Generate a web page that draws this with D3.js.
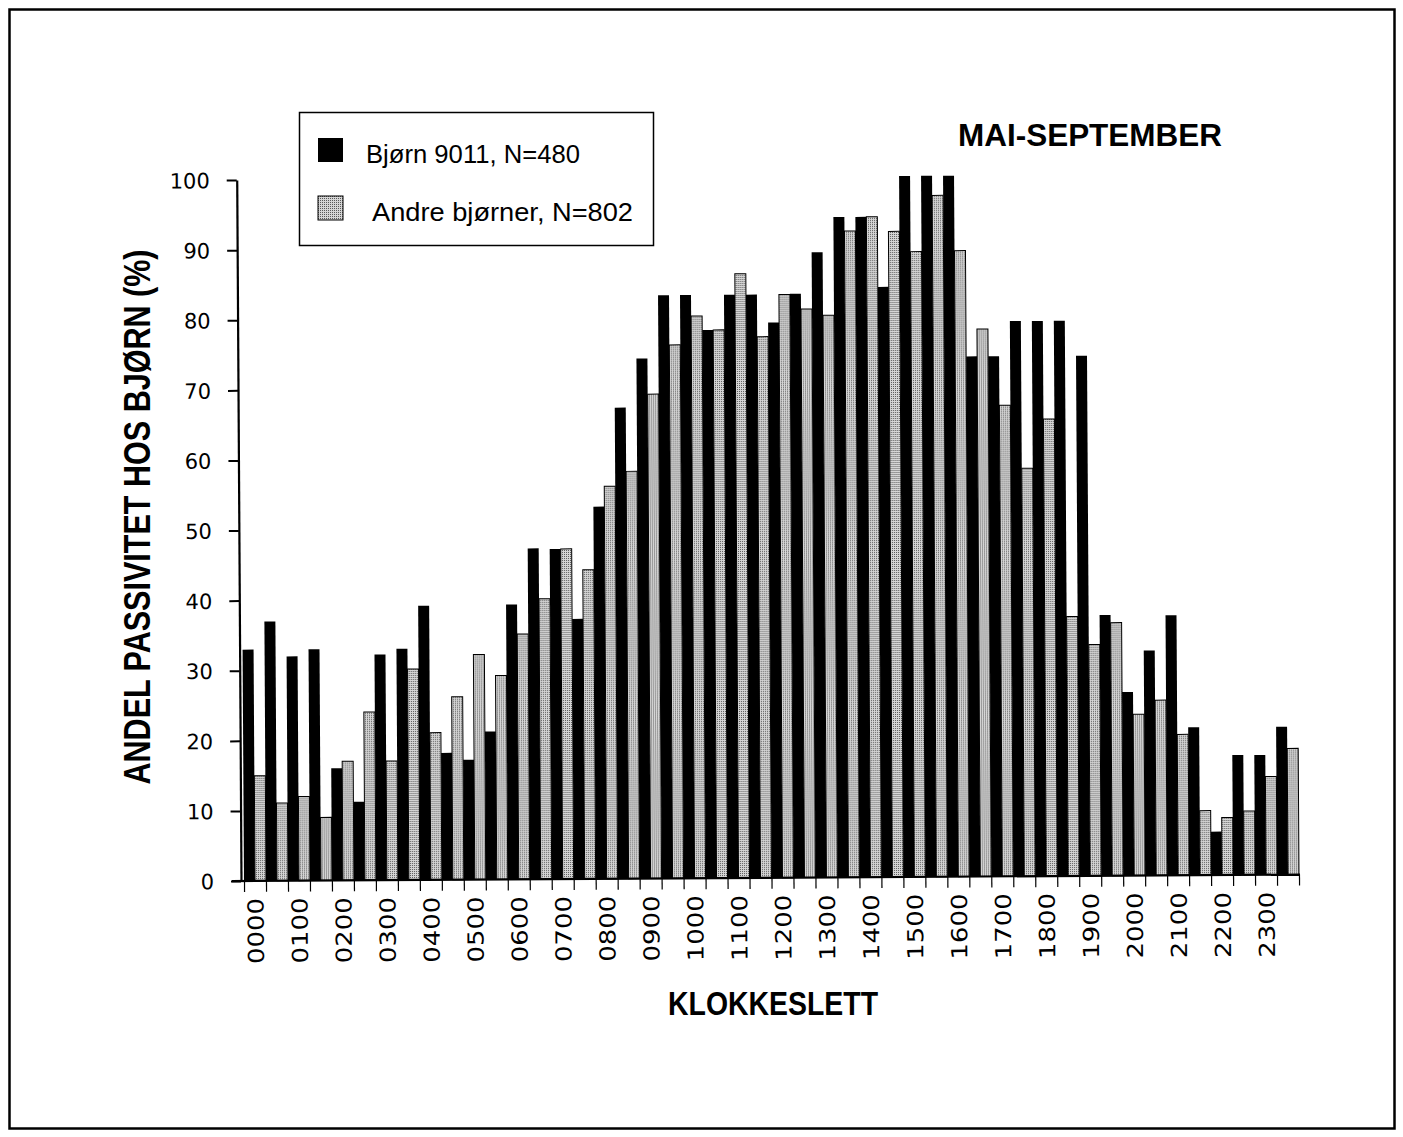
<!DOCTYPE html>
<html>
<head>
<meta charset="utf-8">
<script src="https://cdn.jsdelivr.net/npm/d3@7"></script>
<style>
  html, body { margin: 0; padding: 0; background: #fff; }
  svg { display: block; }
</style>
</head>
<body>
<script>
// ---------------- DATA ----------------
const times = ["0000","0030","0100","0130","0200","0230","0300","0330","0400","0430","0500","0530",
               "0600","0630","0700","0730","0800","0830","0900","0930","1000","1030","1100","1130",
               "1200","1230","1300","1330","1400","1430","1500","1530","1600","1630","1700","1730",
               "1800","1830","1900","1930","2000","2030","2100","2130","2200","2230","2300","2330"];
const hourLabels = ["0000","0100","0200","0300","0400","0500","0600","0700","0800","0900","1000","1100",
                    "1200","1300","1400","1500","1600","1700","1800","1900","2000","2100","2200","2300"];
const bear9011 = [33, 37, 32, 33, 16, 11.2, 32.2, 33, 39.1, 18.1, 17.1, 21.1,
                  39.2, 47.2, 47.1, 37.1, 53.1, 67.2, 74.2, 83.2, 83.2, 78.2, 83.2, 83.2,
                  79.2, 83.3, 89.2, 94.2, 94.2, 84.2, 100, 100, 100, 74.2, 74.2, 79.2,
                  79.2, 79.2, 74.2, 37.2, 26.2, 32.1, 37.1, 21.1, 6.2, 17.1, 17.1, 21.1];
const otherBears = [15, 11.1, 12, 9, 17, 24, 17, 30.1, 21, 26.1, 32.1, 29.1,
                    35, 40, 47.1, 44.1, 56, 58.1, 69.1, 76.1, 80.2, 78.2, 86.2, 77.2,
                    83.2, 81.1, 80.2, 92.2, 94.2, 92.1, 89.2, 97.2, 89.3, 78.1, 67.2, 58.2,
                    65.2, 37, 33, 36.1, 23, 25, 20.1, 9.2, 8.2, 9.1, 14, 18];
const seriesNames = ["Bjørn 9011, N=480", "Andre bjørner, N=802"];
const yTicks = [0, 10, 20, 30, 40, 50, 60, 70, 80, 90, 100];
const yTitle = "ANDEL PASSIVITET HOS BJØRN (%)";
const xTitle = "KLOKKESLETT";
const chartTitle = "MAI-SEPTEMBER";

// ---------------- SETUP ----------------
const W = 1403, H = 1137;
const svg = d3.select("body").append("svg").attr("width", W).attr("height", H);

const defs = svg.append("defs");
const pat = defs.append("pattern").attr("id", "stipple")
  .attr("width", 2).attr("height", 2).attr("patternUnits", "userSpaceOnUse");
pat.append("rect").attr("width", 2).attr("height", 2).attr("fill", "#d6d6d6");
pat.append("rect").attr("width", 1).attr("height", 1).attr("fill", "#5a5a5a");

// outer frame
svg.append("rect").attr("x", 9.5).attr("y", 9.5).attr("width", 1385).attr("height", 1119)
  .attr("fill", "none").attr("stroke", "#000").attr("stroke-width", 2.5);

const x0 = 244, x1 = 1299, yBase = 881, yTop = 180;

const x = d3.scaleBand().domain(times).range([x0, x1]).paddingInner(0).paddingOuter(0);
const xs = d3.scaleBand().domain(["b", "g"]).range([0, x.bandwidth()]);
const xl = d3.scaleLinear().domain([0, times.length]).range([x0, x1]);
const y = d3.scaleLinear().domain([0, 100]).range([yBase, yTop]);

const chart = svg.append("g").attr("transform", `rotate(-0.35, ${x0}, ${yBase})`);

// bars
const rows = times.map((t, i) => ({ t, b: bear9011[i], g: otherBears[i] }));
chart.append("g").selectAll("rect.b").data(rows).join("rect")
  .attr("x", d => x(d.t) + xs("b"))
  .attr("width", xs.bandwidth())
  .attr("y", d => y(d.b))
  .attr("height", d => y(0) - y(d.b))
  .attr("fill", "#000");
chart.append("g").selectAll("rect.g").data(rows).join("rect")
  .attr("x", d => x(d.t) + xs("g"))
  .attr("width", xs.bandwidth())
  .attr("y", d => y(d.g))
  .attr("height", d => y(0) - y(d.g))
  .attr("fill", "url(#stipple)")
  .attr("stroke", "#000").attr("stroke-width", 1);

// y axis
const yAx = chart.append("g").attr("transform", `translate(${x0 - 3},0)`)
  .call(d3.axisLeft(y).tickValues(yTicks).tickSize(10).tickSizeOuter(0).tickPadding(17));
yAx.select(".domain").attr("stroke-width", 2.2);
yAx.selectAll(".tick line").attr("stroke-width", 2);
yAx.selectAll(".tick text").attr("font-family", "DejaVu Sans").attr("font-size", 21)
  .attr("fill", "#000").attr("dy", "0.36em");

// x axis ticks (slot boundaries)
const xAx = chart.append("g").attr("transform", `translate(0,${yBase})`)
  .call(d3.axisBottom(xl).tickValues(d3.range(times.length + 1)).tickSize(11).tickSizeOuter(0).tickFormat(""));
xAx.select(".domain").attr("d", `M${x0 - 12},0H${x1 + 1}`).attr("stroke-width", 2.2);
xAx.selectAll(".tick line").attr("stroke-width", 1.2);

// x axis labels (hourly)
const hourScale = d3.scalePoint().domain(hourLabels)
  .range([x(times[0]) + x.bandwidth() / 2, x(times[46]) + x.bandwidth() / 2]);
const xLab = chart.append("g").attr("transform", `translate(0,${yBase})`)
  .call(d3.axisBottom(hourScale).tickSize(0));
xLab.select(".domain").remove();
xLab.selectAll(".tick text")
  .attr("transform", "rotate(-90)")
  .attr("text-anchor", "end")
  .attr("x", -17).attr("y", 0).attr("dy", "0.36em")
  .attr("font-family", "DejaVu Sans").attr("font-size", 22).attr("fill", "#000")
  .attr("textLength", 66).attr("lengthAdjust", "spacingAndGlyphs");

// titles
svg.append("text").attr("transform", "translate(150,517) rotate(-90)")
  .attr("text-anchor", "middle").attr("font-family", "Liberation Sans Narrow, Liberation Sans, Arial")
  .attr("font-weight", "bold").attr("font-size", 37)
  .attr("textLength", 535).attr("lengthAdjust", "spacingAndGlyphs")
  .text(yTitle);

svg.append("text").attr("x", 773).attr("y", 1015)
  .attr("text-anchor", "middle").attr("font-family", "Liberation Sans Narrow, Liberation Sans, Arial")
  .attr("font-weight", "bold").attr("font-size", 34)
  .attr("textLength", 210).attr("lengthAdjust", "spacingAndGlyphs")
  .text(xTitle);

svg.append("text").attr("x", 1090).attr("y", 146)
  .attr("text-anchor", "middle").attr("font-family", "Liberation Sans, Arial")
  .attr("font-weight", "bold").attr("font-size", 31)
  .attr("textLength", 264).attr("lengthAdjust", "spacingAndGlyphs")
  .text(chartTitle);

// legend
const lg = svg.append("g");
lg.append("rect").attr("x", 299.5).attr("y", 112.5).attr("width", 354).attr("height", 133)
  .attr("fill", "#fff").attr("stroke", "#000").attr("stroke-width", 1.5);
const legendItems = [
  { name: seriesNames[0], fill: "#000", stroke: "none", sy: 138, tx: 366, ty: 163, len: 214 },
  { name: seriesNames[1], fill: "url(#stipple)", stroke: "#000", sy: 196, tx: 372, ty: 221, len: 261 }
];
legendItems.forEach(d => {
  lg.append("rect").attr("x", 318).attr("y", d.sy).attr("width", 25).attr("height", 24)
    .attr("fill", d.fill).attr("stroke", d.stroke).attr("stroke-width", 1);
  lg.append("text").attr("x", d.tx).attr("y", d.ty)
    .attr("font-family", "Liberation Sans, Arial").attr("font-size", 25)
    .attr("textLength", d.len).attr("lengthAdjust", "spacingAndGlyphs")
    .text(d.name);
});
</script>
</body>
</html>
